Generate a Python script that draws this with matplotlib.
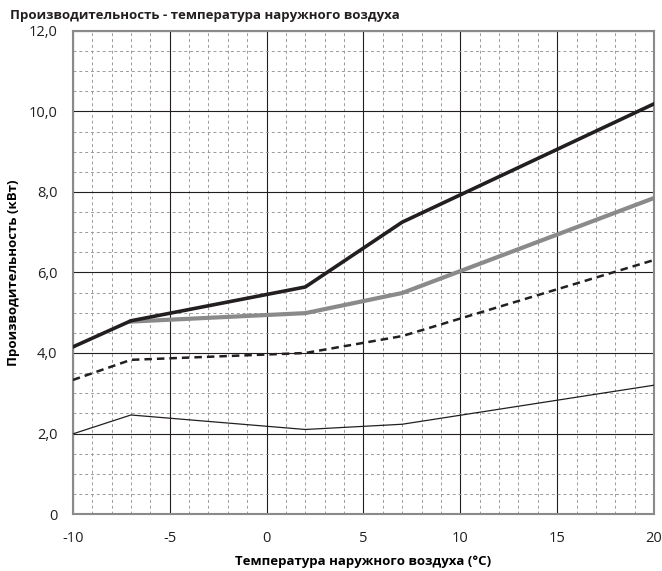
import matplotlib.pyplot as plt
from matplotlib.ticker import MultipleLocator, FuncFormatter

plt.rcParams['font.family'] = ['Open Sans', 'DejaVu Sans']
plt.rcParams['axes.unicode_minus'] = False

temp = [-10, -7, 2, 7, 20]
temp_gray = [-7, 2, 7, 20]
black_thick = [4.15, 4.8, 5.64, 7.25, 10.19]
gray_thick = [4.78, 4.99, 5.49, 7.85]
dashed = [3.33, 3.83, 4.0, 4.42, 6.31]
thin = [1.99, 2.46, 2.1, 2.23, 3.2]

fig = plt.figure(figsize=(6.62, 5.71), dpi=100)
ax = fig.add_axes([0.110, 0.0998, 0.878, 0.846])

ax.plot(temp, thin, color='#231f20', lw=0.9, zorder=3)
ax.plot(temp, dashed, color='#231f20', lw=1.8, ls=(0, (3, 2)), zorder=3)
ax.plot(temp_gray, gray_thick, color='#8a8a8a', lw=3.0, zorder=3)
ax.plot(temp, black_thick, color='#231f20', lw=2.6, zorder=4)

ax.set_xlim(-10, 20)
ax.set_ylim(0, 12)
ax.xaxis.set_major_locator(MultipleLocator(5))
ax.xaxis.set_minor_locator(MultipleLocator(1))
ax.yaxis.set_major_locator(MultipleLocator(2))
ax.yaxis.set_minor_locator(MultipleLocator(0.5))
ax.yaxis.set_major_formatter(FuncFormatter(lambda v, p: '0' if v == 0 else '{:.1f}'.format(v).replace('.', ',')))

ax.grid(which='major', color='#231f20', lw=0.8)
ax.grid(which='minor', color='#9a9a9a', lw=0.7, ls=(0, (3, 3)))
ax.set_axisbelow(True)
ax.tick_params(which='both', length=0, labelsize=10.5, colors='#231f20')
ax.tick_params(axis='x', pad=12)
ax.tick_params(axis='y', pad=11)
for s in ax.spines.values():
    s.set_color('#8a8a8a')
    s.set_linewidth(1.5)

ax.set_xlabel('Температура наружного воздуха (°C)', fontsize=9.5, fontweight='bold', labelpad=7)
ax.set_ylabel('Производительность (кВт)', fontsize=9.5, fontweight='bold', labelpad=6)
fig.text(0.015, 0.972, 'Производительность - температура наружного воздуха', fontsize=9.5,
         fontweight='bold', va='center', ha='left', color='#231f20')

plt.savefig('out.png')
